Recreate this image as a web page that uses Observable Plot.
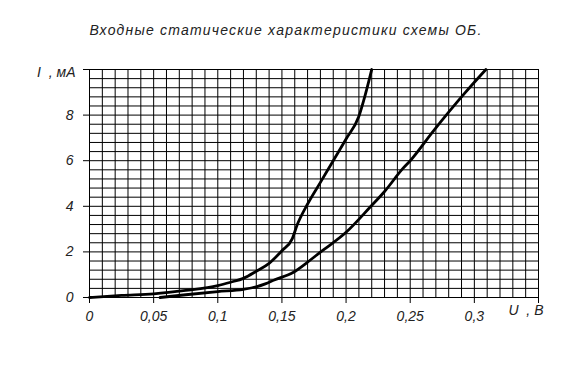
<!DOCTYPE html>
<html>
<head>
<meta charset="utf-8">
<script src="https://cdn.jsdelivr.net/npm/d3@7"></script>
<script src="https://cdn.jsdelivr.net/npm/@observablehq/plot@0.6"></script>
<style>
  html, body { margin: 0; padding: 0; background: #fff; }
</style>
</head>
<body>
<div id="chart"></div>
<script>
// Data
const title = "Входные статические характеристики схемы ОБ.";
const xLabel = "U  , В";
const yLabel = "I  , мА";
const xTicks = [0, 0.05, 0.1, 0.15, 0.2, 0.25, 0.3, 0.35];
const yTicks = [0, 2, 4, 6, 8, 10];

// Curve 1 (left, steeper)
const u1 = [0, 0.025, 0.05, 0.075, 0.1, 0.11, 0.12, 0.13, 0.14, 0.15, 0.158, 0.162, 0.17, 0.18, 0.19, 0.2, 0.21, 0.215, 0.22];
const i1 = [0, 0.09, 0.16, 0.31, 0.52, 0.67, 0.84, 1.15, 1.5, 2.05, 2.57, 3.2, 4.1, 5.05, 6.0, 6.95, 7.95, 8.9, 10.0];

// Curve 2 (right)
const u2 = [0.055, 0.075, 0.1, 0.12, 0.13, 0.137, 0.144, 0.159, 0.17, 0.18, 0.2, 0.219, 0.23, 0.244, 0.25, 0.268, 0.292, 0.309];
const i2 = [0, 0.12, 0.26, 0.36, 0.47, 0.6, 0.77, 1.11, 1.55, 1.99, 2.86, 3.98, 4.65, 5.64, 6.0, 7.3, 8.93, 10.0];

const curve1 = u1.map((u, k) => ({u, i: i1[k]}));
const curve2 = u2.map((u, k) => ({u, i: i2[k]}));

const xMin = 0, xMax = 0.35, yMin = 0, yMax = 10;
const xGrid = d3.range(0, 36).map(k => k / 100);
const yGrid = d3.range(0, 26).map(k => k * 0.4);

const fmt = d => d === 0.35 ? "" : String(d).replace(".", ",");

const chart = Plot.plot({
  width: 573,
  height: 374,
  marginLeft: 89,
  marginRight: 35,
  marginTop: 69,
  marginBottom: 77,
  style: {
    fontFamily: "'Liberation Sans', Arial, sans-serif",
    fontSize: "14px",
    fontStyle: "italic",
    background: "#fff",
    color: "#000"
  },
  x: {domain: [xMin, xMax]},
  y: {domain: [yMin, yMax]},
  marks: [
    Plot.ruleX(xGrid, {stroke: "#000", strokeWidth: 1}),
    Plot.ruleY(yGrid, {stroke: "#000", strokeWidth: 1}),
    Plot.frame({stroke: "#000", strokeWidth: 1}),
    Plot.axisX({ticks: xTicks, tickFormat: fmt, tickSize: 6, tickPadding: 8, label: null, fill: "#222", stroke: "#000"}),
    Plot.axisY({ticks: yTicks, tickFormat: d => d === 10 ? "" : String(d), tickSize: 6, tickPadding: 10, label: null, fill: "#222", stroke: "#000"}),
    Plot.line(curve1, {x: "u", y: "i", stroke: "#000", strokeWidth: 2.8, curve: "monotone-x"}),
    Plot.line(curve2, {x: "u", y: "i", stroke: "#000", strokeWidth: 2.8, curve: "monotone-x"}),
    Plot.text([title], {frameAnchor: "top", dx: -28, dy: -44, fill: "#222", fontSize: 14}),
    Plot.text([yLabel], {frameAnchor: "top-left", textAnchor: "end", dx: -14, dy: -2.5, fill: "#222"}),
    Plot.text([xLabel], {frameAnchor: "bottom-right", textAnchor: "end", dx: 5, dy: 17, fill: "#222"})
  ]
});
chart.querySelectorAll("text").forEach(t => {
  if (t.textContent === title) t.style.letterSpacing = "1.2px";
  if (t.textContent === xLabel || t.textContent === yLabel) t.style.whiteSpace = "pre";
});
document.getElementById("chart").appendChild(chart);
</script>
</body>
</html>
